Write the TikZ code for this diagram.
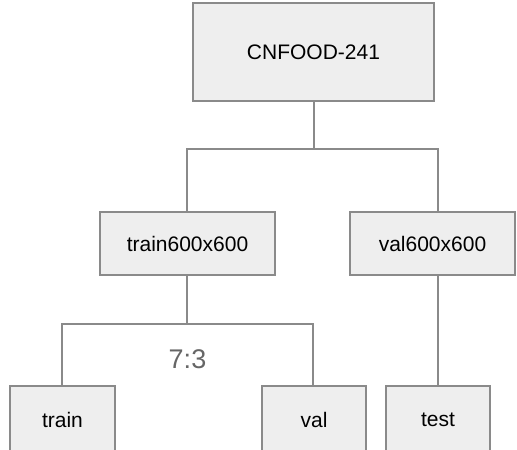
\documentclass[tikz,border=0pt]{standalone}
\usepackage{fontspec}
\setmainfont{Liberation Sans}
\definecolor{boxfill}{HTML}{EEEEEE}
\definecolor{boxline}{HTML}{8A8A8A}
\definecolor{labelgray}{HTML}{666666}
\begin{document}
\begin{tikzpicture}[x=1pt,y=-1pt,
  box/.style={draw=boxline,fill=boxfill,line width=1.3pt},
  conn/.style={draw=boxline,line width=1.3pt},
  lbl/.style={font=\fontsize{21}{25}\selectfont,text=black}]
\useasboundingbox (0,0) rectangle (517,450);
\clip (0,0) rectangle (517,450);
% boxes
\draw[box] (193,3) rectangle (434,101);
\node[lbl] (root) at (313.5,52) {CNFOOD-241};
\coordinate (rootb) at (314,101);
\draw[box] (100,212) rectangle (275,275);
\node[lbl] (tr6) at (187.5,243.5) {train600x600};
\draw[box] (350,212) rectangle (515,275);
\node[lbl] (va6) at (432.5,243.5) {val600x600};
\draw[box] (10,386) rectangle (115,470);
\node[lbl] (train) at (62.5,420) {train};
\draw[box] (262,386) rectangle (366,470);
\node[lbl] (val) at (314,420) {val};
\draw[box] (386,386) rectangle (490,470);
\node[lbl] (test) at (438,420) {test};
% connectors
\coordinate (j1) at (314,149);
\coordinate (tr6t) at (187,212);
\coordinate (va6t) at (438,212);
\draw[conn] (rootb) -- (j1);
\draw[conn] (tr6t) |- (j1) -| (va6t);
\coordinate (tr6b) at (187,275);
\coordinate (j2) at (187,324);
\draw[conn] (tr6b) -- (j2);
\draw[conn] (62,386) |- (j2) -| (313,386);
\draw[conn] (438,275) -- (438,386);
\node[font=\fontsize{27}{32}\selectfont,text=labelgray] (ratio) at (187.5,359) {7:3};
\end{tikzpicture}
\end{document}
